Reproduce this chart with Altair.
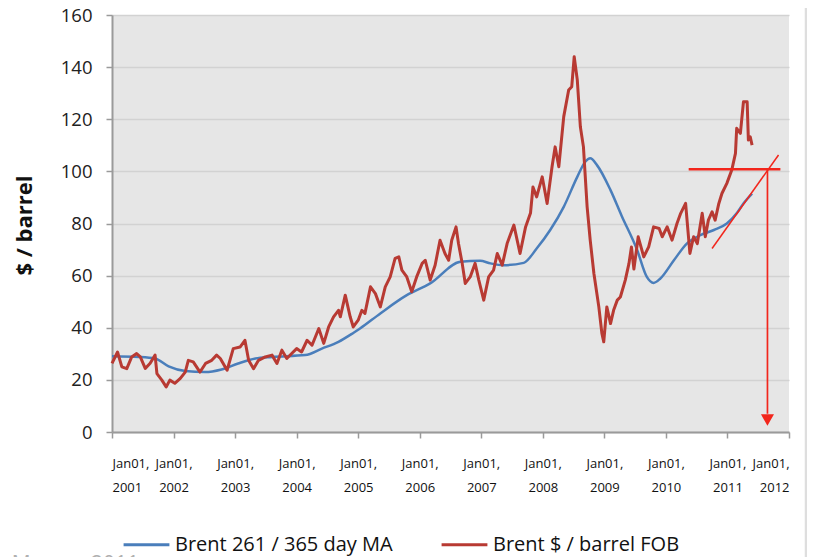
import altair as alt
import pandas as pd

# ---------------- data ----------------
SERIES_MA = "Brent 261 / 365 day MA"
SERIES_FOB = "Brent $ / barrel FOB"

fob_year = [2001.00, 2001.09, 2001.16, 2001.24, 2001.32, 2001.40, 2001.46, 2001.54, 2001.62, 2001.70,
            2001.73, 2001.81, 2001.88, 2001.94, 2002.02, 2002.11, 2002.19, 2002.24, 2002.32, 2002.43,
            2002.52, 2002.62, 2002.70, 2002.76, 2002.87, 2002.97, 2003.08, 2003.16, 2003.22, 2003.30,
            2003.38, 2003.49, 2003.60, 2003.68, 2003.76, 2003.84, 2003.92, 2004.00, 2004.08, 2004.17,
            2004.25, 2004.36, 2004.44, 2004.52, 2004.60, 2004.68, 2004.71, 2004.79, 2004.87, 2004.92,
            2005.00, 2005.06, 2005.11, 2005.20, 2005.28, 2005.36, 2005.44, 2005.52, 2005.60, 2005.66,
            2005.71, 2005.79, 2005.87, 2005.95, 2006.04, 2006.09, 2006.17, 2006.25, 2006.33, 2006.41,
            2006.47, 2006.52, 2006.59, 2006.63, 2006.69, 2006.74, 2006.82, 2006.90, 2006.96, 2007.04,
            2007.12, 2007.20, 2007.26, 2007.34, 2007.42, 2007.53, 2007.63, 2007.72, 2007.80, 2007.84,
            2007.90, 2007.99, 2008.07, 2008.15, 2008.20, 2008.26, 2008.34, 2008.42, 2008.47, 2008.51,
            2008.56, 2008.61, 2008.66, 2008.72, 2008.77, 2008.83, 2008.91, 2008.96, 2008.99, 2009.04,
            2009.10, 2009.15, 2009.21, 2009.26, 2009.34, 2009.40, 2009.44, 2009.48, 2009.55, 2009.64,
            2009.72, 2009.80, 2009.89, 2009.94, 2010.02, 2010.10, 2010.18, 2010.24, 2010.32, 2010.39,
            2010.45, 2010.51, 2010.59, 2010.64, 2010.69, 2010.75, 2010.80, 2010.86, 2010.91, 2010.99,
            2011.07, 2011.13, 2011.15, 2011.21, 2011.26, 2011.32, 2011.34, 2011.37, 2011.40]
fob_price = [26.3, 30.7, 25.0, 24.3, 28.8, 30.1, 28.8, 24.4, 26.4, 29.5,
             22.4, 19.9, 17.3, 19.9, 18.7, 20.6, 23.0, 27.5, 26.9, 23.0,
             26.3, 27.5, 29.5, 28.2, 23.7, 32.0, 32.6, 35.2, 27.5, 24.3,
             27.5, 28.8, 29.5, 26.3, 31.4, 28.2, 30.1, 32.0, 30.7, 35.2,
             33.3, 39.7, 34.0, 40.3, 44.2, 46.7, 44.2, 52.5, 44.2, 40.3,
             42.9, 46.7, 45.5, 55.7, 53.1, 48.0, 55.7, 59.5, 66.6, 67.2,
             62.1, 59.5, 53.8, 59.5, 64.7, 65.9, 58.3, 64.0, 73.6, 68.5,
             65.9, 73.6, 78.7, 72.3, 64.7, 57.0, 59.5, 64.7, 58.3, 50.6,
             59.5, 62.1, 68.5, 64.0, 72.3, 79.4, 68.5, 78.7, 84.0, 94.0,
             90.2, 97.9, 87.7, 101.8, 109.4, 101.8, 121.0, 131.2, 132.5, 144.0,
             135.1, 117.1, 109.4, 86.4, 73.6, 60.8, 48.0, 37.8, 34.6, 48.0,
             41.6, 46.7, 50.6, 51.8, 58.3, 64.7, 71.0, 62.5, 74.9, 67.2,
             71.0, 78.7, 78.1, 74.9, 78.7, 73.6, 80.0, 83.9, 87.7, 68.5,
             74.9, 72.3, 83.9, 74.9, 81.3, 84.5, 81.3, 87.7, 91.5, 95.4,
             100.5, 106.9, 116.5, 114.6, 126.7, 126.7, 112.0, 113.3, 110.1]

ma_year = [2001.00, 2001.44, 2001.70, 2001.92, 2002.19, 2002.51, 2002.78, 2003.05, 2003.33, 2003.60,
           2004.14, 2004.41, 2004.68, 2004.92, 2005.03, 2005.36, 2005.79, 2006.17, 2006.66, 2006.98,
           2007.15, 2007.36, 2007.69, 2007.90, 2008.12, 2008.34, 2008.56, 2008.69, 2008.77, 2008.88,
           2009.10, 2009.28, 2009.53, 2009.69, 2009.80, 2009.91, 2010.13, 2010.34, 2010.56, 2010.78,
           2010.99, 2011.15, 2011.26, 2011.40]
ma_price = [29.1, 28.8, 28.2, 25.2, 23.4, 23.0, 24.0, 26.3, 28.2, 28.8,
            29.5, 32.0, 34.6, 38.0, 39.7, 45.5, 52.5, 57.0, 65.3, 65.7,
            64.7, 64.0, 64.9, 70.4, 77.5, 86.4, 97.9, 103.7, 105.0, 102.4,
            92.8, 83.0, 70.0, 59.5, 57.2, 58.9, 65.9, 72.3, 75.5, 77.5,
            80.0, 83.9, 87.7, 91.5]

year_ticks = list(range(2001, 2013))
price_ticks = [0, 20, 40, 60, 80, 100, 120, 140, 160]

# hand-drawn annotation (horizontal marker, tangent, drop line) in data units
ann_x = [2010.37, 2010.75, 2011.65]
ann_x2 = [2011.86, 2011.83, 2011.65]
ann_y = [100.8, 70.4, 100.8]
ann_y2 = [100.8, 106.3, 7.0]
ann_w = [2.5, 1.5, 1.7]
arrow_x = [2011.65]
arrow_y = [4.6]

credit = "© E. Mearns 2011"

# ---------------- styling ----------------
BLUE = "#4a7ebb"
RED = "#b83a33"
ANN = "#f2261c"
FONT = "Open Sans"

assert len(fob_year) == len(fob_price)
assert len(ma_year) == len(ma_price)

df = pd.concat([
    pd.DataFrame({"year": ma_year, "price": ma_price, "series": SERIES_MA}),
    pd.DataFrame({"year": fob_year, "price": fob_price, "series": SERIES_FOB}),
], ignore_index=True)

ann = pd.DataFrame({"x": ann_x, "x2": ann_x2, "y": ann_y, "y2": ann_y2, "w": ann_w})
arrow = pd.DataFrame({"x": arrow_x, "y": arrow_y})
credit_df = pd.DataFrame({"t": [credit]})

xscale = alt.Scale(domain=[2001, 2012], nice=False, zero=False)
yscale = alt.Scale(domain=[0, 160], nice=False)

x_axis = alt.Axis(values=year_ticks, title=None, grid=False,
                  labelExpr="['Jan01,', format(datum.value, 'd')]",
                  labelFont=FONT, labelFontSize=13, labelColor="#111",
                  labelLineHeight=24, labelPadding=19, labelBaseline="top",
                  tickSize=6, tickColor="#9a9a9a", tickWidth=1.5,
                  domainColor="#9a9a9a", domainWidth=2)
y_axis = alt.Axis(values=price_ticks, title="$ / barrel", grid=True,
                  gridColor="#d2d2d2", gridWidth=1.5,
                  labelFont=FONT, labelFontSize=18.5, labelColor="#222", labelPadding=14,
                  tickSize=6, tickColor="#9a9a9a", tickWidth=1.5,
                  domainColor="#9a9a9a", domainWidth=2,
                  titleFont=FONT, titleFontSize=22, titleFontWeight="bold", titleColor="#111",
                  titleAngle=270, titleAlign="center", titleBaseline="middle",
                  titleX=-88, titleY=210)

color = alt.Color("series:N",
                  scale=alt.Scale(domain=[SERIES_MA, SERIES_FOB], range=[BLUE, RED]),
                  legend=alt.Legend(orient="none", legendX=10, legendY=505,
                                    direction="horizontal", title=None,
                                    symbolType="stroke", symbolSize=2100,
                                    symbolStrokeWidth=3, labelFont=FONT,
                                    labelFontSize=20, labelColor="#111", labelLimit=0,
                                    columnPadding=42, labelOffset=4, padding=0))

base = alt.Chart(df).encode(
    x=alt.X("year:Q", scale=xscale, axis=x_axis),
    y=alt.Y("price:Q", scale=yscale, axis=y_axis),
    color=color,
)

ma_line = base.transform_filter(alt.datum.series == SERIES_MA).mark_line(
    strokeWidth=2.5, interpolate="monotone")
fob_line = base.transform_filter(alt.datum.series == SERIES_FOB).mark_line(
    strokeWidth=3, strokeJoin="round")

ann_rules = alt.Chart(ann).mark_rule(color=ANN).encode(
    x=alt.X("x:Q", scale=xscale), x2="x2:Q",
    y=alt.Y("y:Q", scale=yscale), y2="y2:Q",
    strokeWidth=alt.StrokeWidth("w:Q", scale=None, legend=None),
)
ann_head = alt.Chart(arrow).mark_point(shape="triangle-down", filled=True, size=170,
                                       color=ANN, opacity=1).encode(
    x=alt.X("x:Q", scale=xscale), y=alt.Y("y:Q", scale=yscale))

edge = alt.Chart(credit_df).mark_rule(color="#dedede", strokeWidth=2.5).encode(
    x=alt.value(694), y=alt.value(-15), y2=alt.value(560))

credit_txt = alt.Chart(credit_df).mark_text(align="right", baseline="alphabetic",
                                            font=FONT, fontSize=21, color="#b0b0b0").encode(
    x=alt.value(27), y=alt.value(556), text="t:N")

chart = alt.layer(ma_line, fob_line, ann_rules, ann_head, edge, credit_txt).properties(
    width=677, height=417,
    autosize=alt.AutoSizeParams(type="none"),
    padding={"left": 104, "top": 7, "right": 18, "bottom": 135},
    background="white",
).configure(font=FONT).configure_view(fill="#e6e6e6", stroke=None)

chart.save("out.html", embed_options={"renderer": "svg", "actions": False})
